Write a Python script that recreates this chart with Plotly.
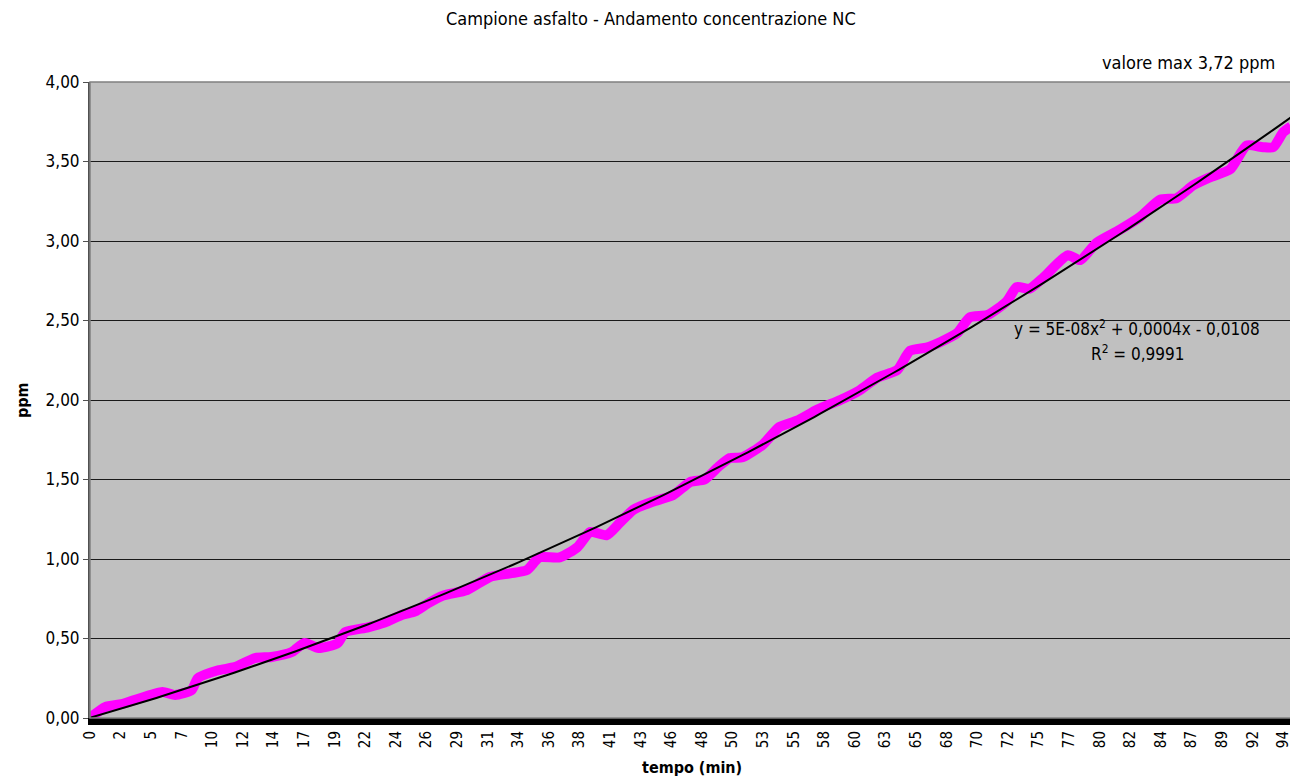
import numpy as np
import plotly.graph_objects as go

# ---- data ----
tempo_min = [0.0, 1.2, 2.5, 3.5, 5.7, 6.7, 8.0, 8.5, 10.1, 11.4, 13.0, 14.3, 15.9, 16.9,
             18.0, 19.5, 20.1, 21.9, 23.2, 24.6, 25.6, 26.6, 27.8, 29.7, 31.5, 33.1, 34.4,
             35.4, 37.0, 38.4, 39.4, 40.7, 41.7, 42.8, 44.3, 45.9, 47.3, 48.4, 49.5, 50.4,
             51.4, 53.0, 54.3, 55.7, 57.3, 59.1, 60.6, 62.0, 63.6, 64.6, 65.9, 67.0, 68.3,
             69.3, 70.7, 72.2, 73.0, 74.0, 75.1, 77.0, 78.0, 79.3, 81.1, 82.7, 84.3, 85.6,
             86.9, 88.2, 89.8, 91.1, 92.4, 93.2, 94.0, 94.6]
ppm = [0.00, 0.069, 0.088, 0.113, 0.164, 0.145, 0.176, 0.25, 0.30, 0.32, 0.377, 0.384,
       0.415, 0.472, 0.44, 0.47, 0.54, 0.57, 0.60, 0.65, 0.67, 0.72, 0.77, 0.805, 0.887,
       0.91, 0.93, 1.01, 1.01, 1.075, 1.17, 1.15, 1.225, 1.31, 1.36, 1.40, 1.485, 1.50,
       1.58, 1.635, 1.64, 1.72, 1.83, 1.87, 1.94, 2.00, 2.06, 2.14, 2.19, 2.31, 2.33,
       2.365, 2.42, 2.52, 2.535, 2.62, 2.71, 2.70, 2.77, 2.91, 2.88, 2.99, 3.07, 3.15,
       3.26, 3.27, 3.35, 3.40, 3.45, 3.60, 3.59, 3.59, 3.685, 3.72]
tick_labels = ["0", "2", "5", "7", "10", "12", "14", "17", "19", "22", "24", "26", "29",
               "31", "34", "36", "38", "41", "43", "46", "48", "50", "53", "55", "58", "60",
               "63", "65", "68", "70", "72", "75", "77", "80", "82", "84", "87", "89", "92",
               "94"]
tick_step = 2.41
x_max = 94.6

title_text = "Campione asfalto - Andamento concentrazione NC"
max_text = "valore max 3,72 ppm"
eq_text = "y = 5E-08x<sup>2</sup> + 0,0004x - 0,0108"
r2_text = "R<sup>2</sup> = 0,9991"

# polynomial trend (order 2) fitted on the series
coef = np.polyfit(tempo_min, ppm, 2)
trend_x = np.linspace(0, x_max, 200)
trend_y = np.polyval(coef, trend_x)

FONT = "DejaVu Sans Condensed, Liberation Sans Narrow, Arial, sans-serif"

fig = go.Figure()
fig.add_trace(go.Scatter(x=tempo_min, y=ppm, mode="lines",
                         line=dict(color="#FF00FF", width=10, shape="spline", smoothing=0.6),
                         showlegend=False, hoverinfo="skip"))
fig.add_trace(go.Scatter(x=trend_x, y=trend_y, mode="lines",
                         line=dict(color="#000000", width=2),
                         showlegend=False, hoverinfo="skip"))

tickvals = [k * tick_step for k in range(len(tick_labels))]

fig.update_layout(
    width=1290, height=772,
    margin=dict(l=82, r=7, t=74, b=62),
    paper_bgcolor="white",
    plot_bgcolor="#C0C0C0",
    separators=", ",
    font=dict(family=FONT, color="black", size=14),
    xaxis=dict(range=[0, x_max], tickvals=tickvals, ticktext=tick_labels,
               tickangle=-90, tickfont=dict(size=15, family=FONT),
               showgrid=False, zeroline=False, showline=True,
               linecolor="black", linewidth=7, ticks=""),
    yaxis=dict(range=[0, 4], dtick=0.5, tickformat=".2f",
               tickfont=dict(size=17, family=FONT),
               showgrid=True, gridcolor="#1a1a1a", gridwidth=1,
               zeroline=False, showline=True, linecolor="#505050", linewidth=2,
               ticks="outside", ticklen=5, tickcolor="#505050"),
    shapes=[dict(type="rect", xref="paper", yref="paper", x0=0, y0=0, x1=1, y1=1,
                 line=dict(color="#808080", width=1.5), layer="above")],
    annotations=[
        dict(text=title_text, xref="paper", yref="paper", x=0.467, y=1.1006,
             xanchor="center", yanchor="middle", showarrow=False,
             font=dict(size=18, family=FONT)),
        dict(text=max_text, xref="paper", yref="paper", x=0.988, y=1.0314,
             xanchor="right", yanchor="middle", showarrow=False,
             font=dict(size=18, family=FONT)),
        dict(text=eq_text, xref="paper", yref="paper", x=0.8718, y=0.613,
             xanchor="center", yanchor="middle", showarrow=False,
             font=dict(size=17, family=FONT)),
        dict(text=r2_text, xref="paper", yref="paper", x=0.8718, y=0.574,
             xanchor="center", yanchor="middle", showarrow=False,
             font=dict(size=17, family=FONT)),
        dict(text="<b>ppm</b>", xref="paper", yref="paper", x=-0.0566, y=0.5,
             xanchor="center", yanchor="middle", textangle=-90, showarrow=False,
             font=dict(size=16, family=FONT)),
        dict(text="<b>tempo (min)</b>", xref="paper", yref="paper", x=0.5012, y=-0.0786,
             xanchor="center", yanchor="middle", showarrow=False,
             font=dict(size=16, family=FONT)),
    ],
)

fig.write_html("out.html")
